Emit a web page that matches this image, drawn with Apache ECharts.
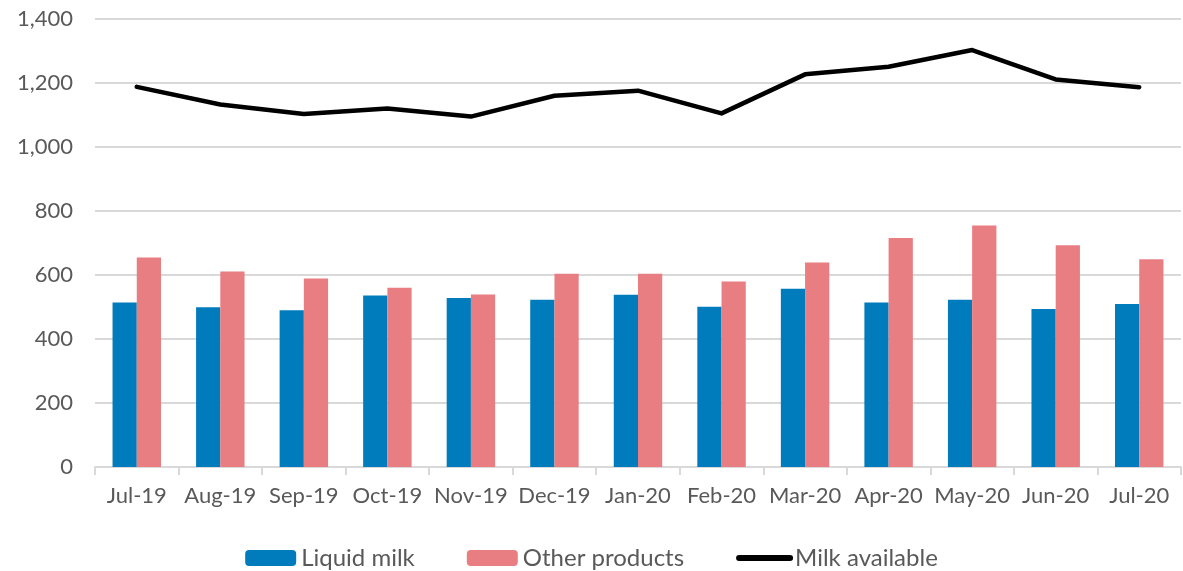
<!DOCTYPE html>
<html>
<head>
<meta charset="utf-8">
<script src="https://cdn.jsdelivr.net/npm/echarts@6/dist/echarts.min.js"></script>
<style>
  html, body { margin: 0; padding: 0; background: #fff; }
  #milkChart { width: 1183px; height: 571px; }
</style>
</head>
<body>
<div id="milkChart"></div>
<script>
const months = ['Jul-19', 'Aug-19', 'Sep-19', 'Oct-19', 'Nov-19', 'Dec-19', 'Jan-20', 'Feb-20', 'Mar-20', 'Apr-20', 'May-20', 'Jun-20', 'Jul-20']
const liquidMilk = [514, 499, 490, 536, 528, 523, 538, 501, 557, 514, 523, 494, 509]
const otherProducts = [655, 611, 589, 560, 539, 604, 604, 580, 639, 716, 755, 693, 649]
const milkAvailable = [1188, 1133, 1103, 1120, 1095, 1160, 1176, 1105, 1227, 1251, 1303, 1211, 1187]

const labelFont = 'Lato, "Open Sans", sans-serif'
const chart = echarts.init(document.getElementById('milkChart'))

chart.setOption({
  animation: false,
  textStyle: { fontFamily: labelFont },
  grid: {
    left: 95,
    right: 2,
    top: 19,
    bottom: 104
  },
  legend: {
    bottom: -4,
    left: 'center',
    itemWidth: 51,
    itemHeight: 16,
    itemGap: 52,
    textStyle: { fontSize: 24, color: '#595959', fontFamily: labelFont },
    data: [
      'Liquid milk',
      'Other products',
      { name: 'Milk available', itemStyle: { opacity: 0 }, lineStyle: { width: 6, cap: 'round' } }
    ]
  },
  xAxis: {
    type: 'category',
    data: months,
    axisLine: { lineStyle: { color: '#d9d9d9', width: 2 } },
    axisTick: { show: true, length: 8, lineStyle: { color: '#d9d9d9', width: 2 } },
    axisLabel: { fontSize: 22, color: '#595959', margin: 18, interval: 0 }
  },
  yAxis: {
    type: 'value',
    min: 0,
    max: 1400,
    interval: 200,
    axisLine: { show: false },
    axisTick: { show: false },
    splitLine: { lineStyle: { color: '#d9d9d9', width: 2 } },
    axisLabel: {
      fontSize: 22,
      color: '#595959',
      margin: 22,
      formatter: v => v.toLocaleString('en-US')
    }
  },
  series: [
    {
      name: 'Liquid milk',
      type: 'bar',
      data: liquidMilk,
      barGap: '0%',
      barCategoryGap: '42%',
      itemStyle: { color: '#007bbb' }
    },
    {
      name: 'Other products',
      type: 'bar',
      data: otherProducts,
      itemStyle: { color: '#e87d82' }
    },
    {
      name: 'Milk available',
      type: 'line',
      data: milkAvailable,
      symbol: 'none',
      lineStyle: { color: '#000', width: 4.5, cap: 'round', join: 'round' },
      itemStyle: { color: '#000' }
    }
  ]
})
</script>
</body>
</html>
